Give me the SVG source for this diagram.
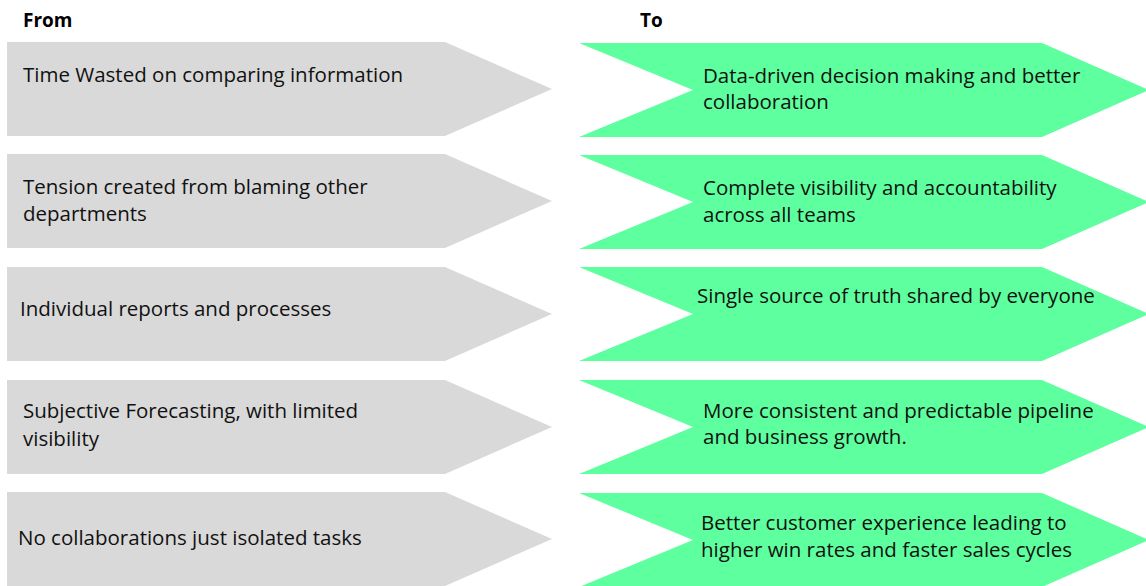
<svg xmlns="http://www.w3.org/2000/svg" width="1146" height="586" viewBox="0 0 1146 586">
  <style>
    .from { fill: #d9d9d9; }
    .to { fill: #5eff9e; }
    .head { font-family: "Open Sans", "Liberation Sans", sans-serif; font-size: 19px; font-weight: bold; fill: #000; }
    .lbl { font-family: "Open Sans", "Liberation Sans", sans-serif; font-size: 20.5px; fill: #111; }
  </style>
  <defs>
    <!-- pentagon arrow (left column) and chevron (right column), 94 px tall -->
    <polygon id="pent" points="7,0 445,0 552,47 445,94 7,94"/>
    <polygon id="chev" points="579,0 1042,0 1149,47 1042,94 579,94 693,47"/>
  </defs>

  <rect width="1146" height="586" fill="#fff"/>

  <text class="head" x="23" y="27">From</text>
  <text class="head" x="640" y="27">To</text>

  <!-- left column: current state -->
  <g id="from-1">
    <use href="#pent" class="from" y="42"/>
    <text class="lbl" x="23" y="82">Time Wasted on comparing information</text>
  </g>
  <g id="from-2">
    <use href="#pent" class="from" y="154"/>
    <text class="lbl" x="23" y="194">Tension created from blaming other</text>
    <text class="lbl" x="23" y="221">departments</text>
  </g>
  <g id="from-3">
    <use href="#pent" class="from" y="267"/>
    <text class="lbl" x="20" y="316">Individual reports and processes</text>
  </g>
  <g id="from-4">
    <use href="#pent" class="from" y="380"/>
    <text class="lbl" x="23" y="418">Subjective Forecasting, with limited</text>
    <text class="lbl" x="23" y="446">visibility</text>
  </g>
  <g id="from-5">
    <use href="#pent" class="from" y="492"/>
    <text class="lbl" x="18" y="545">No collaborations just isolated tasks</text>
  </g>

  <!-- right column: target state -->
  <g id="to-1">
    <use href="#chev" class="to" y="43"/>
    <text class="lbl" x="703" y="83">Data-driven decision making and better</text>
    <text class="lbl" x="703" y="109">collaboration</text>
  </g>
  <g id="to-2">
    <use href="#chev" class="to" y="155"/>
    <text class="lbl" x="703" y="195">Complete visibility and accountability</text>
    <text class="lbl" x="703" y="222">across all teams</text>
  </g>
  <g id="to-3">
    <use href="#chev" class="to" y="267"/>
    <text class="lbl" x="697" y="303">Single source of truth shared by everyone</text>
  </g>
  <g id="to-4">
    <use href="#chev" class="to" y="380"/>
    <text class="lbl" x="703" y="418">More consistent and predictable pipeline</text>
    <text class="lbl" x="703" y="444">and business growth.</text>
  </g>
  <g id="to-5">
    <use href="#chev" class="to" y="493"/>
    <text class="lbl" x="701" y="530">Better customer experience leading to</text>
    <text class="lbl" x="701" y="557">higher win rates and faster sales cycles</text>
  </g>
</svg>
